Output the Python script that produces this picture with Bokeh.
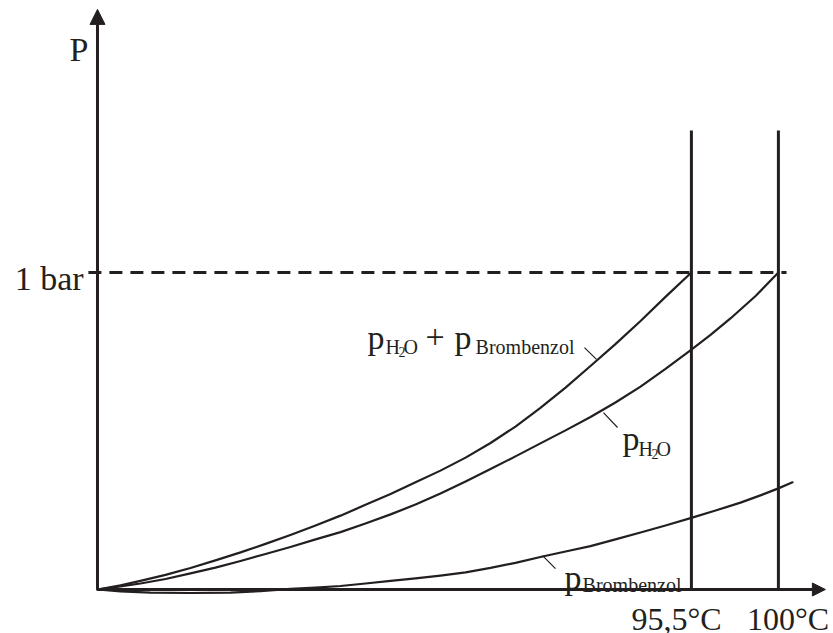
from bokeh.plotting import figure
from bokeh.models import Range1d, Arrow, NormalHead, Label
from bokeh.core.properties import value
from bokeh.embed import file_html
from bokeh.resources import INLINE

# ---- data (temperature in °C, pressure in bar) ----
t_sum = [64.78, 65.97, 67.00, 68.30, 69.59, 70.88, 72.18, 73.47, 74.76, 76.06, 77.35, 78.64, 79.94,
         81.23, 82.52, 83.82, 85.11, 86.40, 87.69, 88.99, 90.28, 91.57, 92.87, 94.16, 95.50]
p_sum = [0.000, 0.013, 0.027, 0.046, 0.068, 0.092, 0.117, 0.144, 0.172, 0.202, 0.233, 0.267, 0.301,
         0.338, 0.375, 0.416, 0.462, 0.514, 0.573, 0.637, 0.705, 0.774, 0.847, 0.923, 1.000]

t_h2o = [64.78, 65.97, 67.00, 68.30, 69.59, 70.88, 72.18, 73.47, 74.76, 76.06, 77.35, 78.64, 79.94,
         81.23, 82.52, 83.82, 85.11, 86.40, 87.69, 88.99, 90.28, 91.57, 92.87, 94.16, 95.50,
         96.49, 97.52, 98.82, 100.00]
p_h2o = [0.000, 0.010, 0.019, 0.033, 0.051, 0.069, 0.090, 0.112, 0.134, 0.158, 0.181, 0.208, 0.237,
         0.268, 0.303, 0.341, 0.380, 0.420, 0.461, 0.502, 0.544, 0.590, 0.640, 0.696, 0.757,
         0.803, 0.855, 0.926, 1.000]

t_brom = [64.78, 65.97, 67.52, 69.59, 71.66, 73.21, 74.76, 76.06, 77.35, 78.64, 79.94, 81.23, 82.52,
          83.82, 85.11, 86.40, 87.80, 88.99, 90.28, 91.57, 92.87, 94.16, 95.50, 96.75, 98.04,
          99.07, 100.00, 100.73]
p_brom = [0.000, -0.006, -0.010, -0.011, -0.010, -0.005, 0.002, 0.006, 0.011, 0.019, 0.027, 0.035, 0.044,
          0.054, 0.068, 0.084, 0.104, 0.120, 0.137, 0.158, 0.180, 0.202, 0.226, 0.249, 0.274,
          0.297, 0.319, 0.338]

boil_temps = [95.5, 100.0]
boil_labels = ["95,5°C", "100°C"]
p_ref = 1.0
p_ref_label = "1 bar"
axis_label = "P"
t_origin = 64.78

INK = "#231f20"
FONT = "Liberation Serif"

p = figure(width=833, height=633, output_backend="svg", toolbar_location=None,
           x_range=Range1d(59.763, 102.85), y_range=Range1d(-0.1388, 1.858),
           min_border=0, outline_line_color=None)
p.axis.visible = False
p.grid.visible = False
p.background_fill_color = "white"
p.border_fill_color = "white"

# axes with arrow heads
p.add_layout(Arrow(end=NormalHead(size=15, fill_color=INK, line_color=INK, line_width=1),
                   x_start=t_origin, y_start=0, x_end=t_origin, y_end=1.830,
                   line_color=INK, line_width=3))
p.add_layout(Arrow(end=NormalHead(size=13, fill_color=INK, line_color=INK, line_width=1),
                   x_start=t_origin, y_start=0, x_end=102.43, y_end=0,
                   line_color=INK, line_width=3))

# 1 bar dashed line
p.line([64.31, 100.42], [p_ref, p_ref], line_color=INK, line_width=3, line_dash="13 8")

# boiling verticals
for t in boil_temps:
    p.line([t, t], [0, 1.448], line_color=INK, line_width=3)

# curves
for xs, ys in ((t_sum, p_sum), (t_h2o, p_h2o), (t_brom, p_brom)):
    p.line(xs, ys, line_color=INK, line_width=2.2, line_join="round", line_cap="round")

# leader lines
p.segment(x0=[89.97, 90.95, 87.80], y0=[0.763, 0.558, 0.107],
          x1=[90.59, 91.68, 88.47], y1=[0.726, 0.511, 0.066],
          line_color=INK, line_width=1.2)

def txt(x, y, s, size, align="left", dx=0, dy=0):
    p.text(x=[x], y=[y], text=[s], text_font=value(FONT), text_font_size=f"{size}px",
           text_color=INK, text_align=align, text_baseline="alphabetic",
           x_offset=dx, y_offset=dy)

# axis texts
txt(63.33, 1.703, axis_label, 34)
txt(64.06, 0.981, p_ref_label, 34, align="right")
for t_lab, s_lab in zip([94.73, 100.50], boil_labels):
    p.add_layout(Label(x=t_lab, y=-0.094, text=s_lab, text_font=FONT, text_font_size="32px",
                       text_color=INK, text_align="center", text_baseline="alphabetic"))

# label: p_H2O + p_Brombenzol
ax, ay = 78.75, 0.795
txt(ax, ay, "p", 34)
txt(ax, ay, "H", 20, dx=18, dy=10)
txt(ax, ay, "2", 14, dx=31, dy=15)
txt(ax, ay, "O", 20, dx=36, dy=10)
txt(ax, ay, "+", 34, dx=58)
txt(ax, ay, "p", 34, dx=87)
txt(ax, ay, "Brombenzol", 20, dx=108, dy=10)

# label: p_H2O
ax, ay = 91.94, 0.476
txt(ax, ay, "p", 34)
txt(ax, ay, "H", 20, dx=16, dy=10)
txt(ax, ay, "2", 14, dx=29, dy=15)
txt(ax, ay, "O", 20, dx=34, dy=10)

# label: p_Brombenzol
ax, ay = 88.94, 0.038
txt(ax, ay, "p", 34)
txt(ax, ay, "Brombenzol", 20, dx=18, dy=8)

open("out.html", "w").write(file_html(p, INLINE))
